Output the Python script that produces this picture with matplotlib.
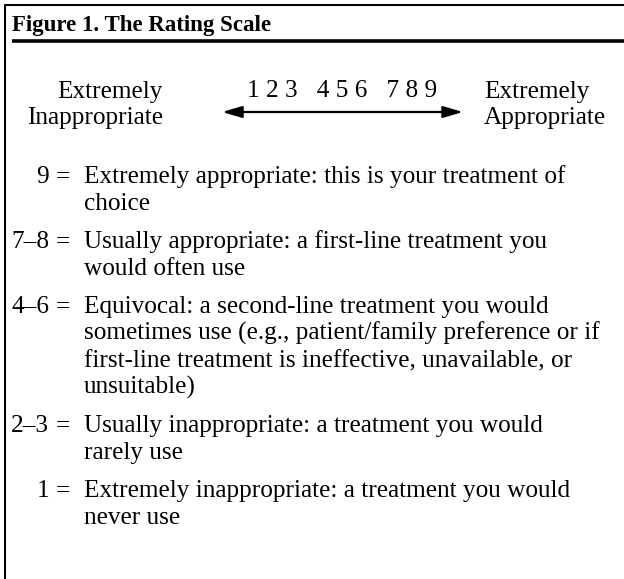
import matplotlib.pyplot as plt

title = "Figure 1. The Rating Scale"
scale_numbers = "1 2 3   4 5 6   7 8 9"
left_label = ["Extremely", "Inappropriate"]
right_label = ["Extremely", "Appropriate"]

ratings = ["9", "7\u20138", "4\u20136", "2\u20133", "1"]
descriptions = [
    ["Extremely appropriate: this is your treatment of", "choice"],
    ["Usually appropriate: a first-line treatment you", "would often use"],
    ["Equivocal: a second-line treatment you would",
     "sometimes use (e.g., patient/family preference or if",
     "first-line treatment is ineffective, unavailable, or",
     "unsuitable)"],
    ["Usually inappropriate: a treatment you would", "rarely use"],
    ["Extremely inappropriate: a treatment you would", "never use"],
]

W, H = 624, 579
fig = plt.figure(figsize=(W / 100, H / 100), dpi=100)
ax = fig.add_axes([0, 0, 1, 1])
ax.set_xlim(0, W)
ax.set_ylim(H, 0)
ax.axis("off")

serif = ["Liberation Serif", "DejaVu Serif"]
fs = 18.2

# frame: top and left edges only
ax.plot([5, 5, W], [H, 5, 5], color="black", lw=1.5, solid_capstyle="butt")
ax.text(12, 31, title, family=serif, fontsize=16.5, fontweight="bold", va="baseline")
ax.plot([12, W], [41, 41], color="black", lw=2.6, solid_capstyle="butt")

# scale header
ax.text(163, 98, left_label[0], family=serif, fontsize=fs, ha="right", va="baseline")
ax.text(163, 124, left_label[1], family=serif, fontsize=fs, ha="right", va="baseline")
ax.text(484, 98, right_label[0], family=serif, fontsize=fs, ha="left", va="baseline")
ax.text(484, 124, right_label[1], family=serif, fontsize=fs, ha="left", va="baseline")
ax.text(342, 97, scale_numbers, family=serif, fontsize=fs, ha="center", va="baseline")
ax.annotate("", xy=(463, 112), xytext=(222, 112),
            arrowprops=dict(arrowstyle="<|-|>,head_length=1.2,head_width=0.35",
                            color="black", lw=1.6, shrinkA=0, shrinkB=0))

# rating definitions
y = 183
line_gap = 27
item_gap = 38
for r, lines in zip(ratings, descriptions):
    ax.text(49, y, r, family=serif, fontsize=fs, ha="right", va="baseline")
    ax.text(63, y, "=", family=serif, fontsize=fs, ha="center", va="baseline")
    for i, line in enumerate(lines):
        ax.text(84, y + i * line_gap, line, family=serif, fontsize=fs,
                ha="left", va="baseline")
    y += (len(lines) - 1) * line_gap + item_gap

fig.savefig("out.png", dpi=100)
